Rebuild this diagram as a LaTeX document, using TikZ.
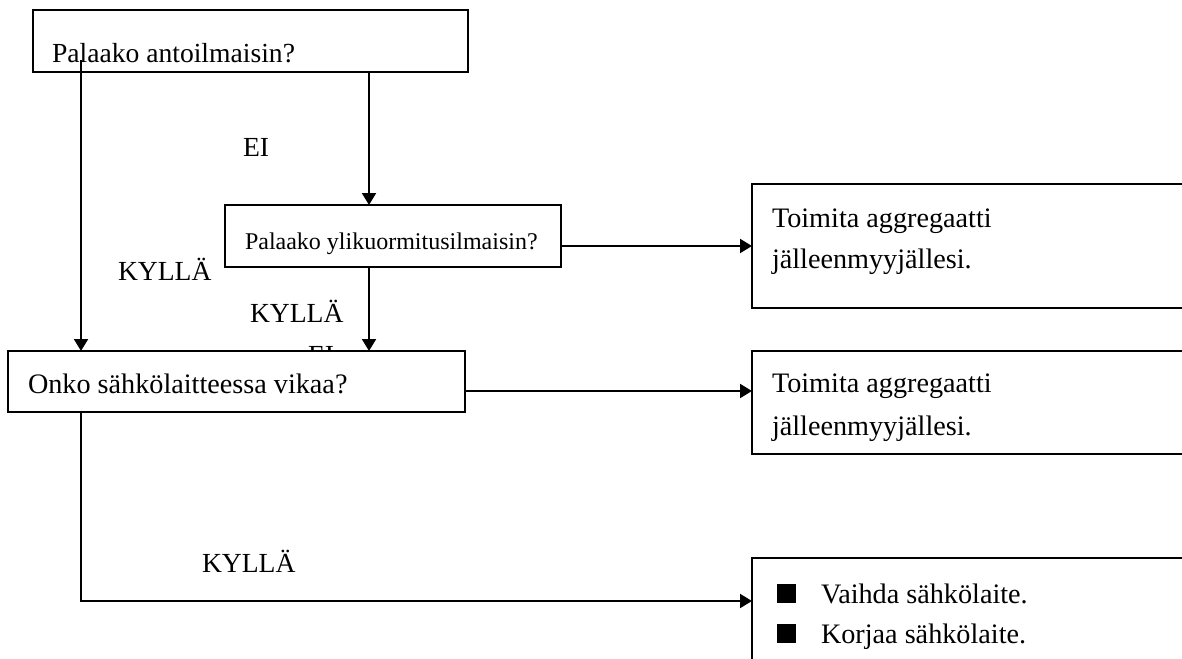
\documentclass[tikz,border=0pt]{standalone}
\usepackage{fontspec}
\setmainfont{Liberation Serif}
\usetikzlibrary{arrows.meta}
\begin{document}
\begin{tikzpicture}[x=0.5pt,y=-0.5pt,line width=1pt,
  box/.style={draw,fill=white,line width=1.1pt,inner sep=0pt,outer sep=0pt,anchor=north west},
  txt/.style={anchor=base west,inner sep=0pt,outer sep=0pt,font=\fontsize{13.8}{16}\selectfont},
  bigtxt/.style={anchor=base west,inner sep=0pt,outer sep=0pt,font=\fontsize{14.1}{16}\selectfont},
  smalltxt/.style={anchor=base west,inner sep=0pt,outer sep=0pt,font=\fontsize{12}{14}\selectfont},
  arr/.style={-{Triangle[length=6pt,width=7pt]}}]
\useasboundingbox (0,0) rectangle (1182,658);
\clip (0,0) rectangle (1182,658);
% column / row coordinates
\coordinate (xL) at (81,0);
\coordinate (xM) at (369,0);
\coordinate (yA) at (0,246);
\coordinate (yB) at (0,391);
\coordinate (yC) at (0,601);
\coordinate (s1) at (81,60);
% labels
\node[txt] (lEI1) at (243,156) {EI};
\node[txt] (lK1) at (118,280) {KYLLÄ};
\node[txt] (lK2) at (250,322) {KYLLÄ};
\node[txt] (lEI2) at (308,364) {EI};
\node[txt] (lK3) at (202,572) {KYLLÄ};
% boxes
\node[box,minimum width=217.5pt,minimum height=31pt] (b1) at (33,10) {};
\node[box,minimum width=168pt,minimum height=31pt] (b2) at (225,205) {};
\node[box,minimum width=228.5pt,minimum height=30.5pt] (b3) at (8,351) {};
\node[box,minimum width=230pt,minimum height=62pt] (r1) at (752,184) {};
\node[box,minimum width=230pt,minimum height=51.5pt] (r2) at (752,351) {};
\node[box,minimum width=230pt,minimum height=70pt] (r3) at (752,558) {};
% texts
\node[txt] (t1) at (52,63) {Palaako antoilmaisin?};
\node[smalltxt] (t2) at (245,249) {Palaako ylikuormitusilmaisin?};
\node[bigtxt] (t3) at (28,393) {Onko sähkölaitteessa vikaa?};
\node[bigtxt] (t4a) at (772,227) {Toimita aggregaatti};
\node[bigtxt] (t4b) at (772,268) {jälleenmyyjällesi.};
\node[bigtxt] (t5a) at (772,392) {Toimita aggregaatti};
\node[bigtxt] (t5b) at (772,435) {jälleenmyyjällesi.};
\node[bigtxt] (t6a) at (777,603) {\rule{9.5pt}{9.5pt}\hspace{12.5pt}Vaihda sähkölaite.};
\node[bigtxt] (t6b) at (777,643) {\rule{9.5pt}{9.5pt}\hspace{12.5pt}Korjaa sähkölaite.};
% connectors
\draw[arr] (s1) -- (b3.north -| xL);
\draw[arr] (b1.south -| xM) -- (b2.north -| xM);
\draw[arr] (b2.south -| xM) -- (b3.north -| xM);
\draw[arr] (b2.east |- yA) -- (r1.west |- yA);
\draw[arr] (b3.east |- yB) -- (r2.west |- yB);
\draw[arr] (b3.south -| xL) |- (r3.west |- yC);
\end{tikzpicture}
\end{document}
